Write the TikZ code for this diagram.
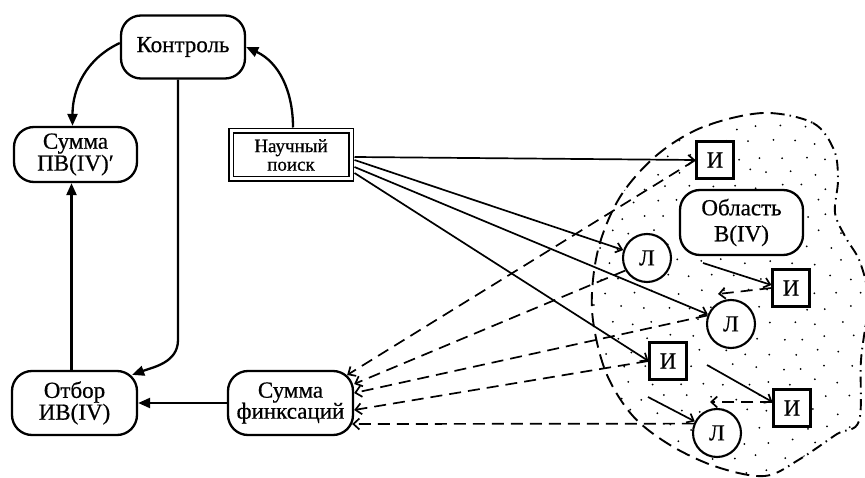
\documentclass[tikz,border=0pt]{standalone}
\usepackage{fontspec}
\setmainfont{Liberation Serif}[FakeBold=0.6]
\usetikzlibrary{arrows.meta}
\begin{document}
\begin{tikzpicture}[x=1pt,y=1pt,
  rbox/.style={draw, line width=2.3pt, rounded corners=20pt, fill=white, align=center, inner sep=0pt},
  sqbox/.style={draw, line width=2.1pt, fill=white, minimum width=37pt, minimum height=37pt, inner sep=0pt, font=\fontsize{23}{23}\selectfont},
  circ/.style={draw, circle, line width=2.1pt, fill=white, minimum size=48pt, inner sep=0pt, font=\fontsize{23}{23}\selectfont},
  main/.style={line width=2.3pt, -{Triangle[length=12pt,width=10pt]}},
  fan/.style={line width=1.7pt, -{Straight Barb[length=6pt,width=10pt]}},
  dsh/.style={line width=1.7pt, dash pattern=on 12pt off 7pt, -{Straight Barb[length=6pt,width=11pt]}},
  blobdash/.style={line width=1.9pt, dash pattern=on 14pt off 7pt},
  blobdot/.style={line width=1.9pt, dash pattern=on 11pt off 5pt on 1.5pt off 5pt},
]
\useasboundingbox (0,0) rectangle (865,-478);

% dotted region
\begin{scope}
\clip plot[smooth cycle, tension=0.55] coordinates {(763,-113) (813,-123) (834,-150) (838,-180) (835,-213) (846,-238) (860,-262) (868,-300) (861,-360) (859,-421) (837,-434) (800,-459) (765,-476) (717,-467) (670,-445) (632,-415) (605,-370) (592,-310) (598,-250) (620,-197) (657,-155) (703,-127)};
\pgfmathsetseed{11}
\foreach \r in {0,...,24}{
  \foreach \c in {0,...,12}{
    \pgfmathsetmacro\xx{586+23*\c+11.5*mod(\r,2)+4*rand}
    \pgfmathsetmacro\yy{-(112+15*\r)+3*rand}
    \fill (\xx,\yy) circle (1.0);
  }
}
\end{scope}
\begin{scope}
\clip (0,0) rectangle (780,-478);
\draw[blobdash] plot[smooth cycle, tension=0.55] coordinates {(763,-113) (813,-123) (834,-150) (838,-180) (835,-213) (846,-238) (860,-262) (868,-300) (861,-360) (859,-421) (837,-434) (800,-459) (765,-476) (717,-467) (670,-445) (632,-415) (605,-370) (592,-310) (598,-250) (620,-197) (657,-155) (703,-127)};
\end{scope}
\begin{scope}
\clip (780,0) rectangle (865,-478);
\draw[blobdot] plot[smooth cycle, tension=0.55] coordinates {(763,-113) (813,-123) (834,-150) (838,-180) (835,-213) (846,-238) (860,-262) (868,-300) (861,-360) (859,-421) (837,-434) (800,-459) (765,-476) (717,-467) (670,-445) (632,-415) (605,-370) (592,-310) (598,-250) (620,-197) (657,-155) (703,-127)};
\end{scope}

% nodes
\node[rbox, minimum width=124pt, minimum height=63pt, font=\fontsize{23}{20}\selectfont] (kon) at (183,-47) {Контроль};
\node[rbox, minimum width=123pt, minimum height=55pt, font=\fontsize{23}{19}\selectfont] (spv) at (75.5,-154.5) {Сумма\\ПВ(IV)′};
\node[draw, double, double distance=3pt, line width=1.7pt, fill=white, minimum width=120pt, minimum height=48pt, inner sep=0pt, outer sep=3.5pt, align=center, font=\fontsize{19}{18.5}\selectfont] (np) at (291,-155) {Научный\\поиск};
\node[rbox, minimum width=125pt, minimum height=64pt, font=\fontsize{23}{20}\selectfont] (otb) at (74.5,-403) {Отбор\\ИВ(IV)};
\node[rbox, minimum width=125pt, minimum height=64pt, font=\fontsize{23}{21}\selectfont] (sf) at (290.5,-403) {Сумма\\финксаций};
\node[rbox, minimum width=123pt, minimum height=65pt, font=\fontsize{23}{26}\selectfont] (obl) at (741.5,-222.5) {Область\\В(IV)};
\node[sqbox] (i1) at (715,-160) {И};
\node[sqbox] (i2) at (791,-288) {И};
\node[sqbox] (i3) at (668,-361) {И};
\node[sqbox] (i4) at (792,-408) {И};
\node[circ] (l1) at (647,-258) {Л};
\node[circ] (l2) at (731,-324) {Л};
\node[circ] (l3) at (717,-433) {Л};

\coordinate (bend) at (178,-340);
\coordinate (a1) at (703,-263);
\coordinate (a2) at (707,-365);
\coordinate (a3) at (648,-397);
\coordinate (b1) at (718,-294);
\coordinate (b2) at (710,-402);

% main connectors
\draw[main] ([yshift=4pt]kon.west) to[out=205,in=90] ([xshift=-3pt]spv.north);
\draw[main] ([xshift=2pt]np.north) to[out=90,in=-25] (kon.east);
\draw[main] ([xshift=-5pt]kon.south) -- (bend) to[out=-90,in=20] ([xshift=-6pt,yshift=-5pt]otb.north east);
\draw[main] ([xshift=-3pt]otb.north) -- ([xshift=-3pt]otb.north |- spv.south);
\draw[main] (sf.west) -- (otb.east);

% fan from search
\draw[fan] ([yshift=-2pt]np.east) -- (i1.west);
\draw[fan] ([yshift=-5pt]np.east) -- (l1);
\draw[fan] ([yshift=-12pt]np.east) -- (l2);
\draw[fan] ([yshift=-18pt]np.east) -- (i3.west);

% short arrows inside region
\draw[fan] (a1) -- ([yshift=3pt]i2.west);
\draw[fan] (a2) -- ([yshift=6pt]i4.west);
\draw[fan] (a3) -- (l3);
\draw[dsh] (i2.west) -- (b1);
\draw[dsh] ([yshift=6pt]i4.west) -- (b2);

% dashed back to sum
\draw[dsh] (i1.west) -- ([xshift=-7pt,yshift=28pt]sf.east);
\draw[dsh] (l1.210) -- ([yshift=19pt]sf.east);
\draw[dsh] (l2.160) -- ([yshift=10pt]sf.east);
\draw[dsh] (i3.west) -- ([yshift=-7pt]sf.east);
\draw[dsh] (l3.158) -- ([xshift=-2pt,yshift=-21pt]sf.east);
\end{tikzpicture}
\end{document}
